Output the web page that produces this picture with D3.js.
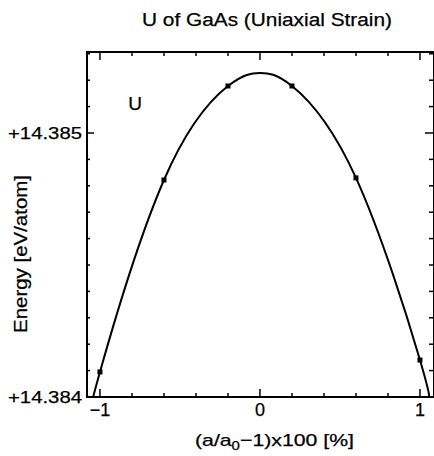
<!DOCTYPE html>
<html><head><meta charset="utf-8">
<script src="https://cdn.jsdelivr.net/npm/d3@7"></script>
<style>body{margin:0;background:#fff}svg{display:block}text{font-family:"Liberation Sans",Arial,sans-serif;fill:#000;stroke:#000;stroke-width:0.25}</style>
</head><body>
<svg id="c" width="434" height="456"></svg>
<script>
// Data
const strain = [-1.0, -0.6, -0.2, 0.2, 0.6, 1.0];
const energy = [14.384095, 14.384822, 14.385178, 14.385178, 14.38483, 14.38414];
// fitted curve samples
const fitX = [-1.03, -1.0, -0.6, -0.2, 0.0, 0.2, 0.6, 1.0, 1.045];
const fitE = [14.384, 14.3840947, 14.384822, 14.385178, 14.3852273, 14.385178, 14.38483, 14.3841402, 14.384];
const xTickVals = [-1, 0, 1];
const xTickLabels = ["\u22121", "0", "1"];
const yTickVals = [14.384, 14.385];
const yTickLabels = ["+14.384", "+14.385"];
const title = "U of GaAs (Uniaxial Strain)";
const yTitle = "Energy [eV/atom]";
const panelLabel = "U";

const svg = d3.select("#c");
const L = 87, R = 434, T = 52, B = 397;
const x = d3.scaleLinear().domain([-1.081, 1.0877]).range([L, R]);
const y = d3.scaleLinear().domain([14.384, 14.3853068]).range([B, T]);

svg.append("defs").append("clipPath").attr("id","clip")
  .append("rect").attr("x",L).attr("y",T).attr("width",R-L).attr("height",B-T);

const minorX = d3.range(-10, 11, 2).map(d => d/10);
const minorY = d3.range(0, 14).map(i => 14.384 + i*0.0001);

const g = svg.append("g");
minorX.forEach(v => {
  const major = Math.abs(v - Math.round(v)) < 1e-9;
  const len = major ? 8 : 4;
  g.append("line").attr("x1",x(v)).attr("x2",x(v)).attr("y1",B).attr("y2",B-len).attr("stroke","#000").attr("stroke-width",1.5);
  g.append("line").attr("x1",x(v)).attr("x2",x(v)).attr("y1",T).attr("y2",T+len).attr("stroke","#000").attr("stroke-width",1.5);
});
minorY.forEach(v => {
  if (y(v) < T) return;
  const major = yTickVals.some(t => Math.abs(t - v) < 1e-7);
  const len = major ? 7 : 3;
  g.append("line").attr("x1",L).attr("x2",L+len).attr("y1",y(v)).attr("y2",y(v)).attr("stroke","#000").attr("stroke-width",1.5);
  g.append("line").attr("x1",R).attr("x2",R-len-2).attr("y1",y(v)).attr("y2",y(v)).attr("stroke","#000").attr("stroke-width",1.5);
});
g.append("rect").attr("x",L).attr("y",T).attr("width",R-L).attr("height",B-T)
  .attr("fill","none").attr("stroke","#000").attr("stroke-width",2);

xTickVals.forEach((v,i) => {
  svg.append("text").attr("x",x(v)).attr("y",416).attr("text-anchor","middle")
    .attr("font-size",18).text(xTickLabels[i]);
});
yTickVals.forEach((v,i) => {
  svg.append("text").attr("x",8).attr("y",y(v)+6)
    .attr("font-size",17).attr("textLength",74).attr("lengthAdjust","spacingAndGlyphs").text(yTickLabels[i]);
});

const line = d3.line().x(d => x(d[0])).y(d => y(d[1])).curve(d3.curveNatural);
svg.append("path").datum(fitX.map((v,i)=>[v, fitE[i]]))
  .attr("d", line).attr("fill","none").attr("stroke","#000").attr("stroke-width",2)
  .attr("clip-path","url(#clip)");

svg.selectAll("rect.m").data(strain.map((v,i)=>[v, energy[i]])).enter().append("rect")
  .attr("class","m").attr("x",d=>x(d[0])-2.5).attr("y",d=>y(d[1])-2.5)
  .attr("width",5).attr("height",5).attr("fill","#000");

svg.append("text").attr("x",142).attr("y",26).attr("font-size",18)
  .attr("textLength",250).attr("lengthAdjust","spacingAndGlyphs").text(title);
svg.append("text").attr("x",135).attr("y",110).attr("text-anchor","middle").attr("font-size",19).text(panelLabel);
svg.append("text").attr("transform","translate(27,333) rotate(-90)")
  .attr("font-size",18).attr("textLength",158).attr("lengthAdjust","spacingAndGlyphs").text(yTitle);
const xt = svg.append("text").attr("x",195).attr("y",446).attr("font-size",17)
  .attr("textLength",159).attr("lengthAdjust","spacingAndGlyphs");
xt.append("tspan").text("(a/a");
xt.append("tspan").attr("font-size",12).attr("dy",4).text("0");
xt.append("tspan").attr("dy",-4).text("\u22121)x100 [%]");
</script>
</body></html>
